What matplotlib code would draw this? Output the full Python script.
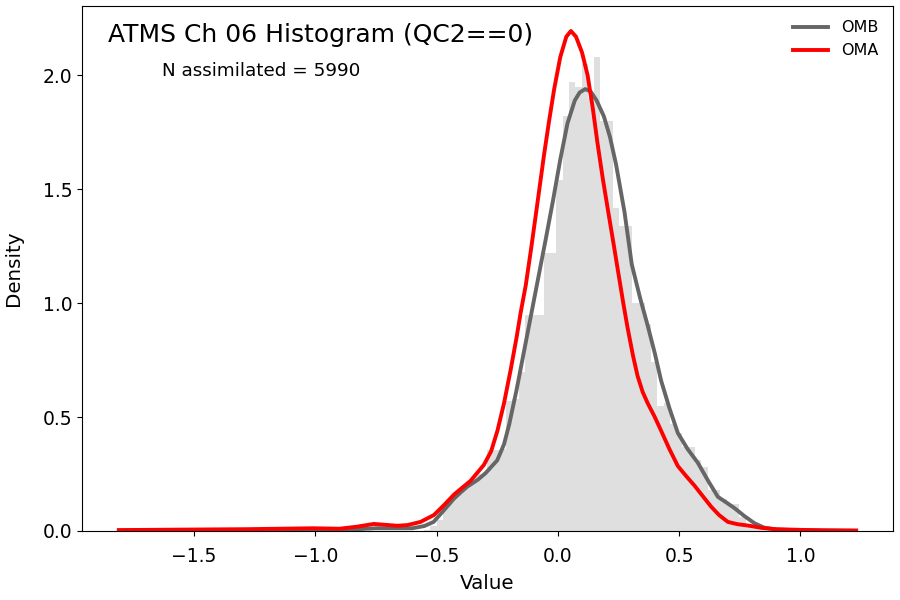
import numpy as np
import matplotlib
matplotlib.use("Agg")
import matplotlib.pyplot as plt

# histogram of OMB values (density)
bin_start = -0.552
bin_width = 0.026
hist_density = [0.005, 0.02, 0.05, 0.10, 0.145, 0.17, 0.20, 0.22, 0.25, 0.25,
                0.355, 0.355, 0.36, 0.57, 0.58, 0.70, 0.95, 0.95, 0.95, 1.22,
                1.22, 1.54, 1.82, 1.97, 1.95, 2.05, 1.90, 2.08, 1.80, 1.80,
                1.42, 1.34, 1.34, 1.00, 1.00, 0.91, 0.74, 0.55, 0.56, 0.47,
                0.43, 0.37, 0.37, 0.31, 0.28, 0.18, 0.18, 0.14, 0.12, 0.12,
                0.06, 0.03, 0.02, 0.01, 0.01]

# KDE curves
omb_x = [-1.81, -1.40, -1.00, -0.85, -0.75, -0.66, -0.60, -0.55, -0.512, -0.483,
         -0.45, -0.43, -0.40, -0.373, -0.33, -0.298, -0.25, -0.222, -0.20, -0.17,
         -0.13, -0.09, -0.05, -0.02, 0.01, 0.04, 0.07, 0.09, 0.113, 0.135,
         0.16, 0.19, 0.215, 0.24, 0.275, 0.305, 0.34, 0.371, 0.40, 0.426,
         0.46, 0.495, 0.535, 0.577, 0.62, 0.66, 0.695, 0.729, 0.77, 0.811,
         0.85, 0.90, 1.00, 1.10, 1.23]
omb_y = [0.002, 0.003, 0.004, 0.007, 0.012, 0.012, 0.012, 0.022, 0.04, 0.075,
         0.115, 0.14, 0.17, 0.195, 0.225, 0.254, 0.31, 0.38, 0.47, 0.62,
         0.84, 1.06, 1.28, 1.45, 1.63, 1.79, 1.89, 1.925, 1.94, 1.93,
         1.89, 1.82, 1.73, 1.61, 1.40, 1.17, 1.02, 0.90, 0.78, 0.66,
         0.54, 0.43, 0.36, 0.30, 0.22, 0.15, 0.125, 0.10, 0.065, 0.034,
         0.015, 0.006, 0.003, 0.002, 0.001]

oma_x = [-1.81, -1.56, -1.28, -1.01, -0.90, -0.828, -0.759, -0.71, -0.662, -0.62,
         -0.566, -0.511, -0.468, -0.428, -0.40, -0.36, -0.305, -0.275, -0.249, -0.222,
         -0.194, -0.17, -0.153, -0.132, -0.11, -0.084, -0.057, -0.036, -0.015, 0.01,
         0.035, 0.054, 0.075, 0.10, 0.123, 0.145, 0.164, 0.185, 0.205, 0.23,
         0.253, 0.27, 0.288, 0.31, 0.329, 0.35, 0.371, 0.40, 0.426, 0.46,
         0.495, 0.53, 0.563, 0.60, 0.632, 0.665, 0.701, 0.74, 0.784, 0.839,
         0.90, 1.00, 1.10, 1.23]
oma_y = [0.004, 0.006, 0.008, 0.012, 0.010, 0.019, 0.031, 0.027, 0.023, 0.026,
         0.04, 0.07, 0.115, 0.16, 0.185, 0.22, 0.29, 0.35, 0.44, 0.56,
         0.71, 0.85, 0.96, 1.08, 1.24, 1.44, 1.65, 1.80, 1.94, 2.08,
         2.17, 2.195, 2.17, 2.10, 2.00, 1.85, 1.70, 1.55, 1.42, 1.26,
         1.11, 1.00, 0.89, 0.77, 0.68, 0.61, 0.56, 0.50, 0.44, 0.36,
         0.285, 0.24, 0.20, 0.15, 0.107, 0.07, 0.04, 0.03, 0.024, 0.014,
         0.008, 0.005, 0.003, 0.002]

title = "ATMS Ch 06 Histogram (QC2==0)"
n_assim = 5990

fig = plt.figure(figsize=(9, 6), dpi=100)
ax = fig.add_axes([0.0911, 0.115, 0.9011, 0.875])

lefts = bin_start + bin_width * np.arange(len(hist_density))
ax.bar(lefts, hist_density, width=bin_width, align='edge', color='#dfdfdf', linewidth=0)

ax.plot(omb_x, omb_y, color='#666666', lw=2.8, label='OMB')
ax.plot(oma_x, oma_y, color='red', lw=2.8, label='OMA')

ax.text(0.032, 0.968, title, transform=ax.transAxes, va='top', ha='left', fontsize=18)
ax.text(0.099, 0.893, "N assimilated = %d" % n_assim, transform=ax.transAxes,
        va='top', ha='left', fontsize=13.2)

ax.set_xlabel('Value', fontsize=14.3, labelpad=6)
ax.set_ylabel('Density', fontsize=14.3, labelpad=14)
ax.tick_params(labelsize=13.5)
ax.tick_params(axis='x', pad=8)
ax.set_yticks([0.0, 0.5, 1.0, 1.5, 2.0])
ax.legend(loc='upper right', frameon=False, fontsize=11.5, handlelength=2.2)

fig.savefig('out.png', dpi=100)
